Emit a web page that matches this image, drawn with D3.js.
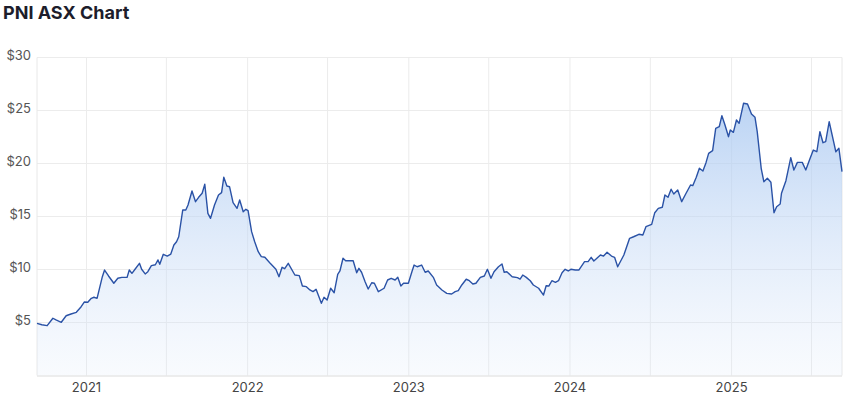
<!DOCTYPE html>
<html>
<head>
<meta charset="utf-8">
<script src="https://cdnjs.cloudflare.com/ajax/libs/d3/7.8.5/d3.min.js"></script>
<style>
body { margin: 0; background: #fff; }
text { font-family: Inter, "Noto Sans", sans-serif; }
</style>
</head>
<body>
<div id="chart"></div>
<script>
// PNI share price
var dates = [
  "2020-09-11","2020-09-22","2020-10-04","2020-10-17","2020-10-24","2020-11-05","2020-11-16","2020-11-27",
  "2020-12-09","2020-12-20","2020-12-27","2021-01-04","2021-01-12","2021-01-18","2021-01-25","2021-02-06",
  "2021-02-11","2021-02-20","2021-03-04","2021-03-13","2021-03-22","2021-04-03","2021-04-08","2021-04-14",
  "2021-04-21","2021-05-01","2021-05-06","2021-05-14","2021-05-20","2021-05-28","2021-06-06","2021-06-12",
  "2021-06-16","2021-06-24","2021-07-03","2021-07-11","2021-07-18","2021-07-24","2021-07-29","2021-08-07",
  "2021-08-14","2021-08-19","2021-08-28","2021-09-05","2021-09-12","2021-09-20","2021-09-26","2021-10-03",
  "2021-10-09","2021-10-18","2021-10-27","2021-11-03","2021-11-08","2021-11-15","2021-11-21","2021-11-29",
  "2021-12-08","2021-12-14","2021-12-22","2021-12-28","2022-01-02","2022-01-10","2022-01-17","2022-01-25",
  "2022-02-01","2022-02-09","2022-02-20","2022-03-06","2022-03-13","2022-03-20","2022-03-26","2022-04-03",
  "2022-04-18","2022-04-28","2022-05-05","2022-05-14","2022-05-22","2022-05-29","2022-06-05","2022-06-17",
  "2022-06-23","2022-06-30","2022-07-08","2022-07-16","2022-07-24","2022-07-29","2022-08-05","2022-08-11",
  "2022-08-28","2022-09-05","2022-09-10","2022-09-16","2022-09-24","2022-10-01","2022-10-09","2022-10-15",
  "2022-10-24","2022-11-06","2022-11-14","2022-11-22","2022-12-01","2022-12-07","2022-12-14","2022-12-20",
  "2022-12-31","2023-01-08","2023-01-13","2023-01-20","2023-01-30","2023-02-07","2023-02-14","2023-02-26",
  "2023-03-05","2023-03-17","2023-03-28","2023-04-08","2023-04-16","2023-04-23","2023-05-01","2023-05-11",
  "2023-05-18","2023-05-26","2023-06-02","2023-06-12","2023-06-21","2023-06-28","2023-07-06","2023-07-13",
  "2023-07-23","2023-07-31","2023-08-05","2023-08-11","2023-08-23","2023-09-04","2023-09-10","2023-09-16",
  "2023-09-24","2023-10-03","2023-10-10","2023-10-22","2023-11-02","2023-11-08","2023-11-14","2023-11-21",
  "2023-11-29","2023-12-06","2023-12-14","2023-12-21","2023-12-28","2024-01-03","2024-01-13","2024-01-21",
  "2024-02-03","2024-02-11","2024-02-18","2024-02-24","2024-03-10","2024-03-17","2024-03-25","2024-04-04",
  "2024-04-11","2024-04-18","2024-05-02","2024-05-15","2024-05-24","2024-06-05","2024-06-14","2024-06-21",
  "2024-07-04","2024-07-11","2024-07-19","2024-07-28","2024-08-03","2024-08-10","2024-08-17","2024-08-23",
  "2024-09-01","2024-09-10","2024-09-19","2024-09-30","2024-10-05","2024-10-13","2024-10-20","2024-10-28",
  "2024-11-04","2024-11-10","2024-11-19","2024-11-26","2024-12-04","2024-12-10","2024-12-17","2024-12-25",
  "2024-12-29","2025-01-05","2025-01-12","2025-01-18","2025-01-28","2025-02-06","2025-02-15","2025-02-23",
  "2025-02-28","2025-03-09","2025-03-15","2025-03-23","2025-03-31","2025-04-07","2025-04-13","2025-04-21",
  "2025-04-24","2025-05-04","2025-05-15","2025-05-22","2025-05-30","2025-06-10","2025-06-18","2025-06-27",
  "2025-07-05","2025-07-13","2025-07-20","2025-07-27","2025-08-02","2025-08-10","2025-08-20","2025-08-25",
  "2025-09-01","2025-09-08"
];
var prices = [
  4.92,4.79,4.70,5.40,5.24,5.02,5.64,5.80,
  5.96,6.49,6.93,6.91,7.28,7.38,7.28,9.32,
  9.95,9.39,8.70,9.17,9.26,9.26,9.95,9.64,
  10.02,10.58,10.02,9.58,9.79,10.36,10.45,10.90,
  10.49,11.43,11.27,11.46,12.31,12.62,13.09,15.61,
  15.61,16.08,17.41,16.40,16.81,17.19,18.04,15.30,
  14.83,16.08,17.03,17.25,18.70,17.88,17.81,16.30,
  15.77,16.56,15.45,15.68,15.55,13.57,12.62,11.68,
  11.21,11.15,10.64,10.02,9.32,10.21,10.08,10.58,
  9.48,9.42,8.44,8.38,8.07,7.91,8.13,6.81,
  7.38,7.12,8.23,7.81,9.55,9.86,11.06,10.83,
  10.83,9.70,10.11,9.74,8.85,8.16,8.75,8.70,
  7.91,8.23,9.01,9.17,9.01,9.26,8.44,8.70,
  8.70,9.79,10.42,10.26,10.42,9.74,9.86,9.23,
  8.54,8.07,7.75,7.69,7.91,8.00,8.54,9.08,
  8.94,8.63,8.70,9.26,9.39,10.02,9.17,9.79,
  10.26,10.52,9.74,9.79,9.32,9.23,9.10,9.48,
  9.26,8.94,8.54,8.23,7.59,8.47,8.44,8.94,
  8.79,8.94,9.70,10.02,9.86,10.02,9.95,9.95,
  10.74,10.74,11.15,10.80,11.37,11.27,11.62,11.27,
  11.15,10.26,11.37,12.94,13.09,13.32,13.25,14.04,
  14.26,15.36,15.77,15.87,17.03,16.81,17.57,17.12,
  17.50,16.40,17.12,17.97,17.91,18.70,19.55,19.29,
  20.08,20.96,21.21,23.32,23.47,24.51,23.63,22.53,
  23.16,22.94,24.10,23.79,25.68,25.61,24.67,24.36,
  23.00,19.55,18.28,18.60,18.23,15.36,15.92,16.18,
  17.19,18.38,20.55,19.39,20.11,20.11,19.39,20.40,
  21.27,21.11,23.00,21.96,22.06,23.94,22.06,21.11,
  21.43,19.23
];
var priceTicks = [5, 10, 15, 20, 25, 30];
var yearLabels = ["2021", "2022", "2023", "2024", "2025"];

var width = 848,
    height = 397;

var parseDate = d3.timeParse("%Y-%m-%d");
var data = dates.map(function(d, i) { return {date: parseDate(d), value: prices[i]}; });

var svg = d3.select("#chart")
  .append("svg")
    .attr("width", width)
    .attr("height", height);

// title
svg.append("text")
  .attr("x", 3)
  .attr("y", 19)
  .style("font-size", "18px")
  .style("font-weight", 700)
  .style("fill", "#1d1d2b")
  .text("PNI ASX Chart");

var x = d3.scaleTime()
  .domain(d3.extent(data, function(d) { return d.date; }))
  .range([37, 842]);

var y = d3.scaleLinear()
  .domain([0, 30])
  .range([375.5, 57.5]);

// horizontal grid + price labels
svg.append("g")
  .selectAll("line")
  .data(priceTicks)
  .enter()
  .append("line")
    .attr("x1", x.range()[0])
    .attr("x2", x.range()[1])
    .attr("y1", function(d) { return y(d); })
    .attr("y2", function(d) { return y(d); })
    .attr("stroke", "#ececec")
    .attr("stroke-width", 1);

svg.append("g")
  .selectAll("text")
  .data(priceTicks)
  .enter()
  .append("text")
    .attr("x", 31)
    .attr("y", function(d) { return y(d) - 1; })
    .attr("text-anchor", "end")
    .attr("dominant-baseline", "middle")
    .style("font-size", "13px")
    .style("fill", "#555")
    .text(function(d) { return "$" + d; });

// vertical grid every half year, plus the two edges
var gridDates = d3.timeMonth.every(6).range(x.domain()[0], x.domain()[1]);
svg.append("g")
  .selectAll("line")
  .data(gridDates)
  .enter()
  .append("line")
    .attr("x1", function(d) { return x(d); })
    .attr("x2", function(d) { return x(d); })
    .attr("y1", y(30))
    .attr("y2", y(0))
    .attr("stroke", "#ececec");

svg.append("g")
  .selectAll("line")
  .data(x.range())
  .enter()
  .append("line")
    .attr("x1", function(d) { return d; })
    .attr("x2", function(d) { return d; })
    .attr("y1", y(30))
    .attr("y2", y(0))
    .attr("stroke", "#e8e8e8");

// gradient for the area
var grad = svg.append("defs")
  .append("linearGradient")
    .attr("id", "fade")
    .attr("gradientUnits", "userSpaceOnUse")
    .attr("x1", 0).attr("y1", y(26))
    .attr("x2", 0).attr("y2", y(0));
grad.append("stop").attr("offset", "0%").attr("stop-color", "#a9c8f1").attr("stop-opacity", 0.8);
grad.append("stop").attr("offset", "100%").attr("stop-color", "#d4e3f8").attr("stop-opacity", 0.15);

svg.append("path")
  .datum(data)
  .attr("fill", "url(#fade)")
  .attr("d", d3.area()
    .x(function(d) { return x(d.date); })
    .y0(y(0))
    .y1(function(d) { return y(d.value); })
  );

svg.append("path")
  .datum(data)
  .attr("fill", "none")
  .attr("stroke", "#2a52a6")
  .attr("stroke-width", 1.4)
  .attr("stroke-linejoin", "round")
  .attr("d", d3.line()
    .x(function(d) { return x(d.date); })
    .y(function(d) { return y(d.value); })
  );

// bottom axis line and year labels
svg.append("line")
  .attr("x1", x.range()[0])
  .attr("x2", x.range()[1])
  .attr("y1", y(0) + 0.5)
  .attr("y2", y(0) + 0.5)
  .attr("stroke", "#dcdcdc");

svg.append("g")
  .selectAll("text")
  .data(yearLabels)
  .enter()
  .append("text")
    .attr("x", function(d) { return x(parseDate(d + "-01-01")); })
    .attr("y", 392)
    .attr("text-anchor", "middle")
    .style("font-size", "13px")
    .style("fill", "#444")
    .text(function(d) { return d; });
</script>
</body>
</html>
